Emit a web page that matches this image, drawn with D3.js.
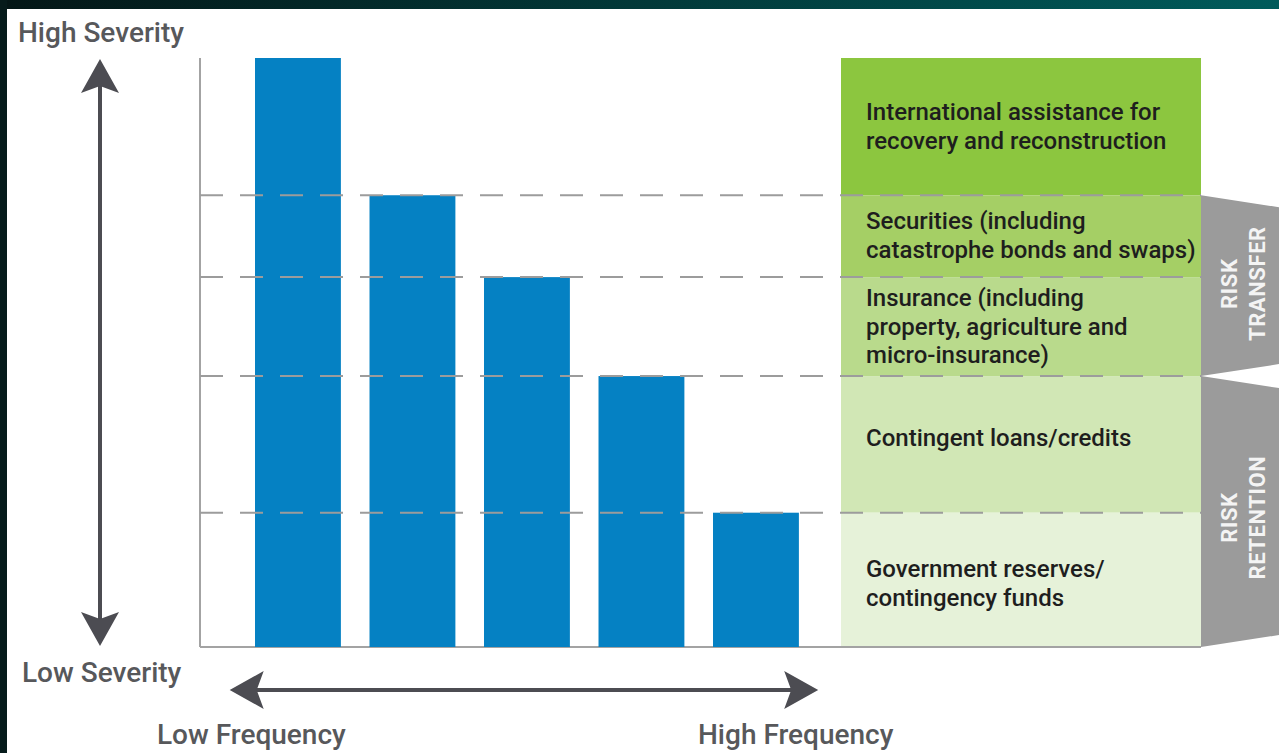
<!DOCTYPE html>
<html>
<head>
<meta charset="utf-8">
<script src="https://cdn.jsdelivr.net/npm/d3@7"></script>
<style>
  body { margin: 0; background: #fff; }
  svg { display: block; font-family: Roboto, "Noto Sans", sans-serif; }
</style>
</head>
<body>
<div id="chart"></div>
<script>
// Risk layering: severity vs frequency
const frequencyBars = ["f1", "f2", "f3", "f4", "f5"];
const severityValues = [100, 76.7, 62.8, 46.0, 22.8];

// instrument tiers, top to bottom (upper bound of each tier on the severity scale)
const tierLabels = [
    ["International assistance for", "recovery and reconstruction"],
    ["Securities (including", "catastrophe bonds and swaps)"],
    ["Insurance (including", "property, agriculture and", "micro-insurance)"],
    ["Contingent loans/credits"],
    ["Government reserves/", "contingency funds"]
];
const tierTops = [100, 76.7, 62.8, 46.0, 22.8];
const tierBottoms = [76.7, 62.8, 46.0, 22.8, 0];
const tierColors = ["#8cc63f", "#a5cf65", "#b9da8c", "#d1e7b5", "#e6f2d9"];

const riskGroupLabels = [["RISK", "TRANSFER"], ["RISK", "RETENTION"]];
const riskGroupTops = [76.7, 46.0];
const riskGroupBottoms = [46.0, 0];

const dashLevels = [76.7, 62.8, 46.0, 22.8];

const W = 1279, H = 753;
const svg = d3.select("#chart").append("svg")
    .attr("width", W)
    .attr("height", H);

// frame (dark bar on top and left)
const grad = svg.append("defs").append("linearGradient")
    .attr("id", "topbar").attr("x1", "0%").attr("x2", "100%");
grad.append("stop").attr("offset", "0%").attr("stop-color", "#041616");
grad.append("stop").attr("offset", "100%").attr("stop-color", "#005b5b");
svg.append("rect").attr("x", 0).attr("y", 0).attr("width", W).attr("height", 9).attr("fill", "url(#topbar)");
svg.append("rect").attr("x", 0).attr("y", 0).attr("width", 7).attr("height", H).attr("fill", "#061b1b");

const y = d3.scaleLinear().domain([0, 100]).range([647, 58]);
const x = d3.scaleBand()
    .domain(frequencyBars)
    .range([240.7, 813.2])
    .paddingInner(0.25)
    .paddingOuter(0.125);

const axisLeft = 200, panelLeft = 841, panelRight = 1201;

// tier panel
const nudge = [0, -1, 0, -6, 4];
const tiers = svg.append("g");
tierLabels.forEach((lines, i) => {
    const top = y(tierTops[i]), bottom = y(tierBottoms[i]);
    tiers.append("rect")
        .attr("x", panelLeft).attr("y", top)
        .attr("width", panelRight - panelLeft).attr("height", bottom - top)
        .attr("fill", tierColors[i]);
    const lh = 28.8;
    const cy = (top + bottom) / 2 - (lines.length - 1) * lh / 2 + nudge[i];
    const t = tiers.append("text")
        .attr("x", panelLeft + 25)
        .attr("font-size", 24)
        .attr("font-weight", 500)
        .attr("fill", "#1e1e1e");
    lines.forEach((ln, j) => {
        t.append("tspan")
            .attr("x", panelLeft + 25)
            .attr("y", cy + j * lh + 8)
            .text(ln);
    });
});

// axes frame
svg.append("line")
    .attr("x1", axisLeft).attr("x2", axisLeft)
    .attr("y1", y(100)).attr("y2", y(0))
    .attr("stroke", "#a3a3a3").attr("stroke-width", 2);
svg.append("line")
    .attr("x1", axisLeft).attr("x2", panelRight)
    .attr("y1", y(0)).attr("y2", y(0))
    .attr("stroke", "#a3a3a3").attr("stroke-width", 2);

// bars
svg.append("g").selectAll("rect")
    .data(frequencyBars)
    .join("rect")
    .attr("x", d => x(d))
    .attr("width", x.bandwidth())
    .attr("y", (d, i) => y(severityValues[i]))
    .attr("height", (d, i) => y(0) - y(severityValues[i]))
    .attr("fill", "#0581c3");

// dashed level lines
svg.append("g").selectAll("line")
    .data(dashLevels)
    .join("line")
    .attr("x1", axisLeft).attr("x2", panelRight)
    .attr("y1", d => y(d)).attr("y2", d => y(d))
    .attr("stroke", "#9c9c9c")
    .attr("stroke-width", 2)
    .attr("stroke-dasharray", "23,17");

// risk group tabs
const tabRight = W, slope = 10;
riskGroupLabels.forEach((lines, i) => {
    const top = y(riskGroupTops[i]), bottom = y(riskGroupBottoms[i]);
    const pts = [
        [panelRight, top],
        [tabRight, top + slope + 2],
        [tabRight, bottom - slope - 2],
        [panelRight, bottom]
    ];
    svg.append("path")
        .attr("d", d3.line()(pts) + "Z")
        .attr("fill", "#9b9b9b");
    const cy = (top + bottom) / 2 + (i === 1 ? 6 : -2);
    lines.forEach((ln, j) => {
        const cx = 1229 + j * 28;
        svg.append("text")
            .attr("transform", `translate(${cx + 8},${cy}) rotate(-90)`)
            .attr("text-anchor", "middle")
            .attr("font-size", 22)
            .attr("font-weight", 700)
            .attr("letter-spacing", 0.6)
            .attr("fill", "#f4f4f4")
            .text(ln);
    });
});

// double-headed arrows
function arrowHead(tip, dir) {
    // dir: unit vector pointing from body towards tip
    const len = 34, half = 19, notch = 27;
    const [tx, ty] = tip, [dx, dy] = dir;
    const px = -dy, py = dx;
    return d3.line()([
        [tx, ty],
        [tx - dx * len + px * half, ty - dy * len + py * half],
        [tx - dx * notch, ty - dy * notch],
        [tx - dx * len - px * half, ty - dy * len - py * half]
    ]) + "Z";
}
const arrowColor = "#4c4c52";
const vx = 100, vTop = y(100) + 1, vBot = y(0) - 1;
svg.append("line").attr("x1", vx).attr("x2", vx).attr("y1", vTop + 20).attr("y2", vBot - 20)
    .attr("stroke", arrowColor).attr("stroke-width", 4);
svg.append("path").attr("d", arrowHead([vx, vTop], [0, -1])).attr("fill", arrowColor);
svg.append("path").attr("d", arrowHead([vx, vBot], [0, 1])).attr("fill", arrowColor);

const hy = 690, hLeft = x.range()[0] - 11, hRight = x.range()[1] + 5;
svg.append("line").attr("x1", hLeft + 20).attr("x2", hRight - 20).attr("y1", hy).attr("y2", hy)
    .attr("stroke", arrowColor).attr("stroke-width", 4);
svg.append("path").attr("d", arrowHead([hLeft, hy], [-1, 0])).attr("fill", arrowColor);
svg.append("path").attr("d", arrowHead([hRight, hy], [1, 0])).attr("fill", arrowColor);

// axis labels
const labelColor = "#57585b";
[
    { text: "High Severity", x: 18, y: 42 },
    { text: "Low Severity", x: 22, y: 682 },
    { text: "Low Frequency", x: 157, y: 744 },
    { text: "High Frequency", x: 698, y: 744 }
].forEach(l => {
    svg.append("text")
        .attr("x", l.x).attr("y", l.y)
        .attr("font-size", 28)
        .attr("font-weight", 500)
        .attr("fill", labelColor)
        .text(l.text);
});
</script>
</body>
</html>
